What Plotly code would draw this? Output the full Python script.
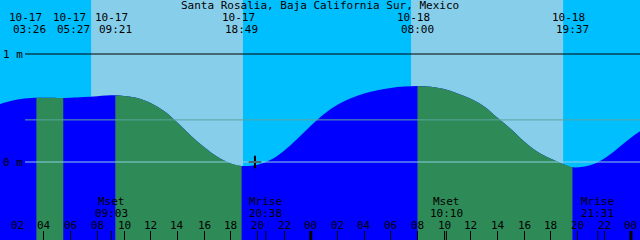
import plotly.graph_objects as go

# ---------------- data ----------------
title = "Santa Rosalia, Baja California Sur, Mexico"

event_dates = ["10-17", "10-17", "10-17", "10-17", "10-18", "10-18"]
event_times = ["03:26", "05:27", "09:21", "18:49", "08:00", "19:37"]
event_heights = [0.596, 0.592, 0.617, -0.037, 0.704, -0.049]

# tide level (m) read at each whole hour from 10-17 00:00 (hour 0) to hour 49
hourly_heights = [0.50, 0.548, 0.579, 0.593, 0.594, 0.593, 0.595, 0.602, 0.609, 0.616,
                  0.611, 0.593, 0.546, 0.472, 0.366, 0.245, 0.139, 0.048, -0.014, -0.036,
                  -0.025, 0.020, 0.105, 0.215, 0.335, 0.445, 0.530, 0.590, 0.634, 0.665,
                  0.685, 0.698, 0.704, 0.697, 0.676, 0.635, 0.585, 0.515, 0.410, 0.305,
                  0.190, 0.095, 0.030, -0.022, -0.046, -0.028, 0.032, 0.125, 0.225, 0.31]

sun_dates = ["10-17", "10-18"]
sunrise_times = ["07:32", "07:31"]
sunset_times = ["18:55", "18:55"]

moon_names = ["Mset", "Mrise", "Mset", "Mrise"]
moon_dates = ["10-17", "10-17", "10-18", "10-18"]
moon_times = ["09:03", "20:38", "10:10", "21:31"]

mean_level = 0.39
now_date, now_time, now_level = "10-17", "19:49", 0.0

level_ticks = [0, 1]
level_labels = ["0 m", "1 m"]
hour_ticks = list(range(2, 49, 2))
hour_labels = ["02", "04", "06", "08", "10", "12", "14", "16", "18", "20", "22", "00",
               "02", "04", "06", "08", "10", "12", "14", "16", "18", "20", "22", "00"]
midnight_ticks = [24, 48]

# ---------------- style ----------------
W, H = 640, 240
NIGHT = "#00BFFF"
DAY = "#87CEEB"
FLOOD = "#0000FF"
EBB = "#2E8B57"
FONT = "DejaVu Sans Mono"
FS = 11

PX_PER_H = 13.34
X0_PX = -9.4          # pixel of hour 0
PX_PER_M = 108.0
ZERO_PX = 162.0       # pixel row of 0 m

x_range = [(0 - X0_PX) / PX_PER_H, (W - X0_PX) / PX_PER_H]
y_range = [(ZERO_PX - H) / PX_PER_M, ZERO_PX / PX_PER_M]
ymin = y_range[0]


def hours(date, hm):
    day = int(date[-2:]) - 17
    h, m = hm.split(":")
    return day * 24 + int(h) + int(m) / 60.0


def py(p):  # pixel row -> paper fraction
    return 1 - p / H


event_hours = [hours(d, t) for d, t in zip(event_dates, event_times)]

pts = {float(i): v for i, v in enumerate(hourly_heights)}
for eh, ev in zip(event_hours, event_heights):
    for k in list(pts):
        if abs(k - eh) < 0.4:
            del pts[k]
    pts[eh] = ev
ts = sorted(pts)
hs = [pts[t] for t in ts]
t_end = ts[-1]

fig = go.Figure()

# whole water area in flood colour
fig.add_trace(go.Scatter(x=[0, t_end], y=[ymin, ymin], mode="lines",
                         line=dict(width=0), showlegend=False, hoverinfo="skip"))
fig.add_trace(go.Scatter(x=ts, y=hs, mode="lines", line=dict(width=0, shape="spline"),
                         fill="tonexty", fillcolor=FLOOD, showlegend=False, hoverinfo="skip"))

# ebb (falling) segments in sea green
bounds = [0.0] + event_hours + [t_end]
for a, b in zip(bounds[:-1], bounds[1:]):
    seg_t = [t for t in ts if a - 1e-9 <= t <= b + 1e-9]
    seg_h = [pts[t] for t in seg_t]
    if seg_h[-1] < seg_h[0]:
        fig.add_trace(go.Scatter(x=[a, b], y=[ymin, ymin], mode="lines",
                                 line=dict(width=0), showlegend=False, hoverinfo="skip"))
        fig.add_trace(go.Scatter(x=seg_t, y=seg_h, mode="lines",
                                 line=dict(width=0, shape="spline"),
                                 fill="tonexty", fillcolor=EBB,
                                 showlegend=False, hoverinfo="skip"))

# current-time cross
fig.add_trace(go.Scatter(x=[hours(now_date, now_time)], y=[now_level], mode="markers",
                         marker=dict(symbol="cross-thin", size=9,
                                     line=dict(color="black", width=2)),
                         showlegend=False, hoverinfo="skip"))

shapes = []
# daylight
for d, sr, ss in zip(sun_dates, sunrise_times, sunset_times):
    shapes.append(dict(type="rect", xref="x", yref="paper", x0=hours(d, sr), x1=hours(d, ss),
                       y0=0, y1=1, fillcolor=DAY, line=dict(width=0), layer="below"))
# level lines
x_line0 = 25 / W
shapes.append(dict(type="line", xref="paper", yref="y", x0=x_line0, x1=1, y0=1, y1=1,
                   line=dict(color="black", width=1), layer="above"))
shapes.append(dict(type="line", xref="paper", yref="y", x0=x_line0, x1=1,
                   y0=mean_level, y1=mean_level,
                   line=dict(color="#5AA5A0", width=1), layer="above"))
shapes.append(dict(type="line", xref="paper", yref="y", x0=x_line0, x1=1, y0=0, y1=0,
                   line=dict(color="#8CCFE8", width=1), layer="above"))
# midnight bold ticks and moon ticks
for m in midnight_ticks:
    shapes.append(dict(type="line", xref="x", yref="paper", x0=m, x1=m, y0=0, y1=py(231),
                       line=dict(color="black", width=3), layer="above"))
for d, t in zip(moon_dates, moon_times):
    mh = hours(d, t)
    shapes.append(dict(type="line", xref="x", yref="paper", x0=mh, x1=mh, y0=0, y1=py(231),
                       line=dict(color="black", width=1), layer="above"))

ann = []
ann.append(dict(text=title, xref="paper", yref="paper", x=0.5, y=py(5.5),
                xanchor="center", yanchor="middle", showarrow=False))
label_shift = [-7, 10, 0, 0, 0, 0]
for eh, d, t, s in zip(event_hours, event_dates, event_times, label_shift):
    ann.append(dict(text=d, xref="x", yref="paper", x=eh, y=py(17.5), xshift=s - 3.5,
                    xanchor="center", yanchor="middle", showarrow=False))
    ann.append(dict(text=t, xref="x", yref="paper", x=eh, y=py(29.5), xshift=s,
                    xanchor="center", yanchor="middle", showarrow=False))
for n, d, t in zip(moon_names, moon_dates, moon_times):
    mh = hours(d, t)
    ann.append(dict(text=n, xref="x", yref="paper", x=mh, y=py(201.5),
                    xanchor="center", yanchor="middle", showarrow=False))
    ann.append(dict(text=t, xref="x", yref="paper", x=mh, y=py(213.5),
                    xanchor="center", yanchor="middle", showarrow=False))
for ht, hl in zip(hour_ticks, hour_labels):
    ann.append(dict(text=hl, xref="x", yref="paper", x=ht, y=py(225.8),
                    xanchor="center", yanchor="middle", showarrow=False))

fig.update_layout(
    width=W, height=H, margin=dict(l=0, r=0, t=0, b=0),
    paper_bgcolor=NIGHT, plot_bgcolor=NIGHT,
    font=dict(family=FONT, size=FS, color="black"),
    shapes=shapes, annotations=ann, showlegend=False,
    xaxis=dict(range=x_range, showgrid=False, zeroline=False, showline=False,
               tickmode="array", tickvals=hour_ticks, showticklabels=False,
               ticks="inside", ticklen=9, tickwidth=1, tickcolor="black",
               fixedrange=True),
    yaxis=dict(range=y_range, showgrid=False, zeroline=False, showline=False,
               tickmode="array", tickvals=level_ticks, ticktext=level_labels,
               ticks="", ticklabelposition="inside", fixedrange=True,
               tickfont=dict(family=FONT, size=FS, color="black")),
)

fig.write_html("out.html")
